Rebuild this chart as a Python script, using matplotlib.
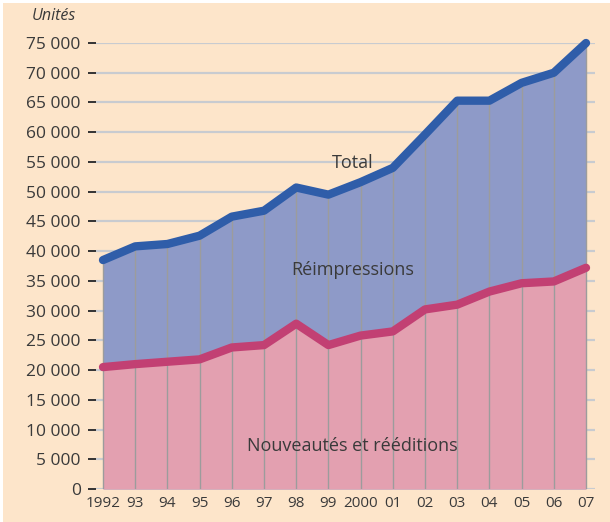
import matplotlib
matplotlib.use("Agg")
import matplotlib.pyplot as plt
from matplotlib.patches import Rectangle

years = list(range(1992, 2008))
year_labels = ["1992", "93", "94", "95", "96", "97", "98", "99", "2000",
               "01", "02", "03", "04", "05", "06", "07"]
total = [38500, 40800, 41200, 42600, 45800, 46800, 50700, 49500, 51600,
         54000, 59600, 65300, 65300, 68300, 70000, 75000]
nouveautes = [20500, 21000, 21400, 21800, 23800, 24200, 27800, 24200, 25800,
              26500, 30200, 31000, 33200, 34600, 34900, 37200]
y_ticks = list(range(0, 75001, 5000))
y_tick_labels = ["0"] + [f"{v // 1000} 000" for v in y_ticks[1:]]

BG = "#FDE5CA"
BLUE_FILL = "#8E9AC8"
BLUE_LINE = "#2F5DA9"
PINK_FILL = "#E3A0B0"
PINK_LINE = "#C24073"
TXT = "#3A3A3A"
FONT = "Open Sans"

W, H = 610, 522
fig = plt.figure(figsize=(W / 100, H / 100), dpi=100)
fig.patch.set_facecolor("white")
fig.patches.append(Rectangle((3 / W, 0), 1 - 3 / W, 1 - 3 / H,
                             transform=fig.transFigure, facecolor=BG,
                             edgecolor="none", zorder=-10))

left, right = 96 / W, 595 / W
bottom, top = 1 - 489 / H, 1 - 43 / H
ax = fig.add_axes([left, bottom, right - left, top - bottom])
ax.set_facecolor("none")

ax.set_xlim(1992 - 7 / 32.2, 2007 + 9 / 32.2)
ax.set_ylim(0, 75000)

# grid lines
for v in y_ticks:
    ax.axhline(v, color="#C8CBD0", lw=1.6, zorder=0)

ax.fill_between(years, 0, total, color=BLUE_FILL, lw=0, zorder=1)
ax.fill_between(years, 0, nouveautes, color=PINK_FILL, lw=0, zorder=2)

# vertical year lines
ax.vlines(years, 0, total, color="#9C9C9C", lw=1.0, zorder=3)

ax.plot(years, nouveautes, color=PINK_LINE, lw=6, solid_capstyle="round",
        solid_joinstyle="round", zorder=4, clip_on=False)
ax.plot(years, total, color=BLUE_LINE, lw=6, solid_capstyle="round",
        solid_joinstyle="round", zorder=5, clip_on=False)

for s in ax.spines.values():
    s.set_visible(False)

ax.set_yticks(y_ticks)
ax.set_yticklabels(y_tick_labels, fontsize=12.5, color=TXT, family=FONT)
ax.tick_params(axis="y", length=6, width=1.4, color="#333333", pad=5, direction="out")
ax.set_xticks(years)
ax.set_xticklabels(year_labels, fontsize=11, color=TXT, family=FONT)
ax.tick_params(axis="x", length=0, pad=5)

fig.text(32 / W, 1 - 16 / H, "Unités", fontsize=11.5, style="italic",
         color=TXT, family=FONT, va="center", ha="left")

ax.text(1999.75, 54900, "Total", fontsize=13, color=TXT, family=FONT,
        ha="center", va="center", zorder=6)
ax.text(1999.75, 36800, "Réimpressions", fontsize=13, color=TXT, family=FONT,
        ha="center", va="center", zorder=6)
ax.text(1999.75, 7200, "Nouveautés et rééditions", fontsize=13, color=TXT,
        family=FONT, ha="center", va="center", zorder=6)

fig.savefig("out.png", dpi=100, facecolor=fig.get_facecolor())
